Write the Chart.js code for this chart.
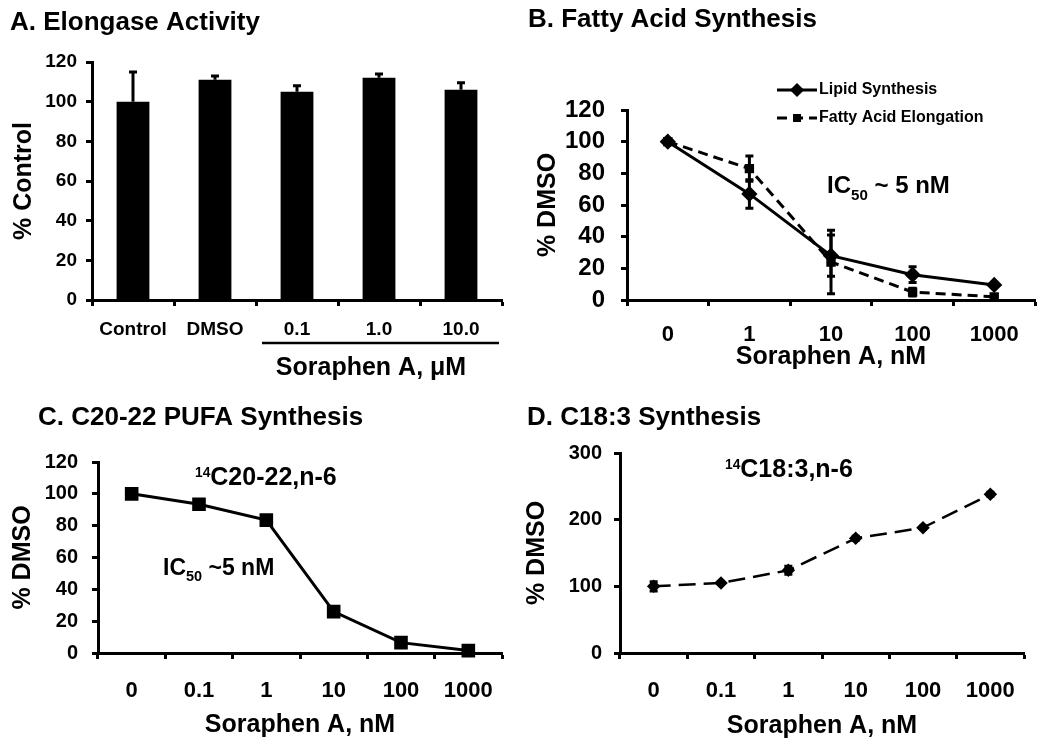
<!DOCTYPE html>
<html>
<head>
<meta charset="utf-8">
<script src="https://cdn.jsdelivr.net/npm/chart.js@4.4.0/dist/chart.umd.min.js"></script>
<style>
  body { margin: 0; background: #fff; }
  canvas { position: absolute; }
</style>
</head>
<body>
<canvas id="chartA" width="525" height="390" style="left:0;top:0"></canvas>
<canvas id="chartB" width="525" height="375" style="left:525px;top:0"></canvas>
<canvas id="chartC" width="525" height="375" style="left:0;top:375px"></canvas>
<canvas id="chartD" width="525" height="375" style="left:525px;top:375px"></canvas>
<script>
const FONT = "'Liberation Sans', Arial, Helvetica, sans-serif";

// A. Elongase activity (% control)
const elongaseLabels = ["Control", "DMSO", "0.1", "1.0", "10.0"];
const elongaseValues = [100, 111, 105, 112, 106];
const elongaseErrors = [15, 2, 3, 2, 3.5];

// B. Fatty acid synthesis (% DMSO)
const doseLabelsB = ["0", "1", "10", "100", "1000"];
const lipidValues = [100, 67, 28, 16, 9.5];
const lipidErrors = [0, 9, 13, 5, 0];
const elongValues = [100, 83, 24, 5, 2];
const elongErrors = [0, 8, 20, 2.5, 1];

// C. C20-22 PUFA synthesis (% DMSO)
const doseLabels = ["0", "0.1", "1", "10", "100", "1000"];
const pufaValues = [100, 93.5, 83.5, 26, 6.5, 1.5];
const pufaErrors = [1.5, 1.5, 2.5, 1.5, 1, 0.5];

// D. C18:3 synthesis (% DMSO)
const c183Values = [100, 105, 124, 172, 188, 238];
const c183Errors = [7, 2, 6, 3, 2, 3];

const boldFont = (size, lineHeight) => ({ family: FONT, size, weight: 'bold', lineHeight: lineHeight || 1.2 });

// error bars drawn from the dataset values through the y scale
const errorBars = {
  id: 'errorBars',
  afterDatasetsDraw(chart) {
    const ctx = chart.ctx;
    const y = chart.scales.y;
    chart.data.datasets.forEach((ds, i) => {
      if (!ds.errors) return;
      const meta = chart.getDatasetMeta(i);
      ctx.save();
      ctx.setLineDash([]);
      ctx.strokeStyle = '#000';
      ctx.lineWidth = 3;
      meta.data.forEach((el, j) => {
        const v = ds.data[j], e = ds.errors[j];
        if (!e) return;
        const top = y.getPixelForValue(v + e);
        const bot = y.getPixelForValue(ds.upOnly ? v : v - e);
        const cap = 4;
        ctx.beginPath();
        ctx.moveTo(el.x, top); ctx.lineTo(el.x, bot);
        ctx.moveTo(el.x - cap, top); ctx.lineTo(el.x + cap, top);
        if (!ds.upOnly) { ctx.moveTo(el.x - cap, bot); ctx.lineTo(el.x + cap, bot); }
        ctx.stroke();
      });
      ctx.restore();
    });
  }
};

function drawRich(ctx, t) {
  const pieceSize = mode => mode === 'sub' ? t.size * 0.63 : mode === 'sup' ? t.size * 0.55 : t.size;
  let total = 0;
  t.parts.forEach(([s, mode]) => {
    ctx.font = `bold ${pieceSize(mode)}px ${FONT}`;
    total += ctx.measureText(s).width;
  });
  let x = t.align === 'center' ? t.x - total / 2 : t.x;
  ctx.textAlign = 'left';
  ctx.textBaseline = 'alphabetic';
  t.parts.forEach(([s, mode]) => {
    ctx.font = `bold ${pieceSize(mode)}px ${FONT}`;
    const dy = mode === 'sub' ? t.size * 0.28 : mode === 'sup' ? -t.size * 0.32 : 0;
    ctx.fillText(s, x, t.y + dy);
    x += ctx.measureText(s).width;
  });
}

function panelText(cfg) {
  return {
    id: 'panelText',
    afterDraw(chart) {
      const ctx = chart.ctx;
      ctx.save();
      ctx.fillStyle = '#000';
      ctx.strokeStyle = '#000';
      (cfg.texts || []).forEach(t => drawRich(ctx, t));
      (cfg.rules || []).forEach(r => {
        ctx.lineWidth = 2.5;
        ctx.beginPath();
        ctx.moveTo(r[0], r[1]); ctx.lineTo(r[2], r[3]);
        ctx.stroke();
      });
      if (cfg.legend) {
        const L = cfg.legend;
        chart.data.datasets.forEach((ds, i) => {
          const yy = L.y + i * L.dy;
          ctx.lineWidth = ds.borderWidth;
          ctx.setLineDash(ds.borderDash || []);
          ctx.beginPath();
          ctx.moveTo(L.x, yy); ctx.lineTo(L.x + L.len, yy);
          ctx.stroke();
          ctx.setLineDash([]);
          Chart.helpers.drawPoint(ctx, {
            pointStyle: ds.pointStyle, radius: ds.pointRadius - 1, rotation: 0, borderWidth: 1
          }, L.x + L.len / 2, yy);
          ctx.fill();
          ctx.font = `bold 16px ${FONT}`;
          ctx.textBaseline = 'middle';
          ctx.textAlign = 'left';
          ctx.fillText(ds.label, L.x + L.len + 2, yy);
        });
      }
      ctx.restore();
    }
  };
}

function yScale(o) {
  return {
    min: 0, max: o.max,
    ticks: { stepSize: o.step, autoSkip: false, color: '#000', font: boldFont(o.size), padding: o.pad },
    grid: { drawOnChartArea: false, drawTicks: true, tickLength: 6, tickWidth: 3, tickColor: '#000' },
    border: { width: 3, color: '#000' },
    title: { display: true, text: o.title, color: '#000', font: boldFont(25, 1), padding: { top: o.titlePad, bottom: 0 } },
    afterFit: s => { s.width = o.width; }
  };
}

function xScale(o) {
  return {
    offset: true,
    ticks: { color: '#000', font: boldFont(o.size), padding: o.pad, maxRotation: 0, autoSkip: false },
    grid: { offset: true, drawOnChartArea: false, drawTicks: true, tickLength: 6, tickWidth: 3, tickColor: '#000' },
    border: { width: 3, color: '#000' },
    title: o.title
      ? { display: true, text: o.title, color: '#000', font: boldFont(25, 1), padding: { top: 0, bottom: o.titlePad } }
      : { display: false },
    afterFit: s => { s.height = o.height; }
  };
}

const baseOptions = (padding, scales) => ({
  responsive: false,
  animation: false,
  devicePixelRatio: 1,
  layout: { padding },
  plugins: { legend: { display: false }, tooltip: { enabled: false } },
  scales
});

// Panel A
new Chart(document.getElementById('chartA'), {
  type: 'bar',
  data: {
    labels: elongaseLabels,
    datasets: [{
      data: elongaseValues,
      errors: elongaseErrors,
      upOnly: true,
      backgroundColor: '#000',
      borderWidth: 0,
      categoryPercentage: 1,
      barPercentage: 0.4
    }]
  },
  options: baseOptions({ left: 0, top: 62, right: 23, bottom: 0 }, {
    x: xScale({ size: 19, pad: 12, height: 90 }),
    y: yScale({ max: 120, step: 20, size: 19, pad: 9, title: '% Control', titlePad: 12, width: 92 })
  }),
  plugins: [errorBars, panelText({
    texts: [
      { x: 10, y: 30, size: 26, parts: [['A. Elongase Activity', '']] },
      { x: 371, y: 375, size: 25, align: 'center', parts: [['Soraphen A, \u03BCM', '']] }
    ],
    rules: [[262, 343, 499, 343]]
  })]
});

// Panel B
new Chart(document.getElementById('chartB'), {
  type: 'line',
  data: {
    labels: doseLabelsB,
    datasets: [{
      label: 'Lipid Synthesis',
      data: lipidValues,
      errors: lipidErrors,
      borderColor: '#000',
      backgroundColor: '#000',
      borderWidth: 3,
      pointStyle: 'rectRot',
      pointRadius: 6,
      pointBackgroundColor: '#000',
      pointBorderColor: '#000',
      tension: 0,
      clip: false
    }, {
      label: 'Fatty Acid Elongation',
      data: elongValues,
      errors: elongErrors,
      borderColor: '#000',
      backgroundColor: '#000',
      borderWidth: 3,
      borderDash: [10, 6],
      pointStyle: 'rect',
      pointRadius: 4.5,
      pointBackgroundColor: '#000',
      pointBorderColor: '#000',
      tension: 0,
      clip: false
    }]
  },
  options: baseOptions({ left: 0, top: 110, right: 15, bottom: 0 }, {
    x: xScale({ size: 22, pad: 16, height: 75, title: 'Soraphen A, nM', titlePad: 5.5 }),
    y: yScale({ max: 120, step: 20, size: 24, pad: 16, title: '% DMSO', titlePad: 10.5, width: 102 })
  }),
  plugins: [errorBars, panelText({
    texts: [
      { x: 3, y: 27, size: 26, parts: [['B. Fatty Acid Synthesis', '']] },
      { x: 302, y: 193, size: 24, parts: [['IC', ''], ['50', 'sub'], [' ~ 5 nM', '']] }
    ],
    legend: { x: 252, y: 90, dy: 28, len: 40 }
  })]
});

// Panel C
new Chart(document.getElementById('chartC'), {
  type: 'line',
  data: {
    labels: doseLabels,
    datasets: [{
      data: pufaValues,
      errors: pufaErrors,
      borderColor: '#000',
      borderWidth: 3,
      pointStyle: 'rect',
      pointRadius: 7.5,
      pointBackgroundColor: '#000',
      pointBorderColor: '#000',
      tension: 0,
      clip: false
    }]
  },
  options: baseOptions({ left: 0, top: 87, right: 23, bottom: 0 }, {
    x: xScale({ size: 22, pad: 19, height: 97, title: 'Soraphen A, nM', titlePad: 12.5 }),
    y: yScale({ max: 120, step: 20, size: 20, pad: 14, title: '% DMSO', titlePad: 10.5, width: 98 })
  }),
  plugins: [errorBars, panelText({
    texts: [
      { x: 38, y: 50, size: 26, parts: [['C. C20-22 PUFA Synthesis', '']] },
      { x: 195, y: 110, size: 25, parts: [['14', 'sup'], ['C20-22,n-6', '']] },
      { x: 163, y: 200, size: 23, parts: [['IC', ''], ['50', 'sub'], [' ~5 nM', '']] }
    ]
  })]
});

// Panel D
new Chart(document.getElementById('chartD'), {
  type: 'line',
  data: {
    labels: doseLabels,
    datasets: [{
      data: c183Values,
      errors: c183Errors,
      borderColor: '#000',
      borderWidth: 2.5,
      borderDash: [17, 8],
      pointStyle: 'rectRot',
      pointRadius: 5,
      pointBackgroundColor: '#000',
      pointBorderColor: '#000',
      tension: 0,
      clip: false
    }]
  },
  options: baseOptions({ left: 0, top: 78, right: 26, bottom: 0 }, {
    x: xScale({ size: 22, pad: 19, height: 97, title: 'Soraphen A, nM', titlePad: 11.5 }),
    y: yScale({ max: 300, step: 100, size: 20, pad: 12, title: '% DMSO', titlePad: 0, width: 95 })
  }),
  plugins: [errorBars, panelText({
    texts: [
      { x: 2, y: 50, size: 26, parts: [['D. C18:3 Synthesis', '']] },
      { x: 200, y: 102, size: 25, parts: [['14', 'sup'], ['C18:3,n-6', '']] }
    ]
  })]
});
</script>
</body>
</html>
